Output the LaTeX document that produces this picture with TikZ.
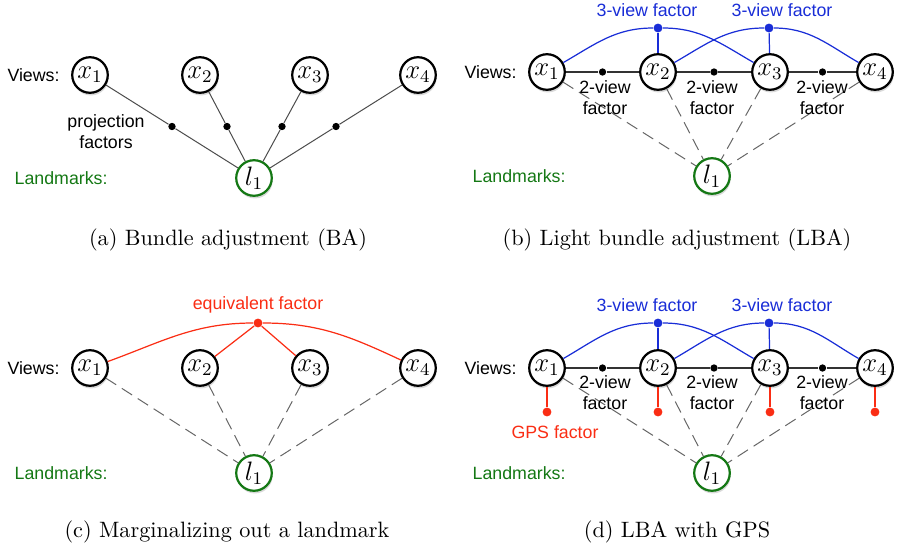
\documentclass[tikz,border=0pt]{standalone}
\usepackage{amsmath}
\usepackage{fontspec}
\setsansfont{Liberation Sans}
\usepackage{tikz}
\usetikzlibrary{positioning,shadows,calc}

\definecolor{lmgreen}{RGB}{20,120,20}
\definecolor{fblue}{RGB}{25,45,215}
\definecolor{fred}{RGB}{250,45,20}

\tikzset{
  view/.style={circle,draw=black,line width=1pt,fill=white,inner sep=0pt,minimum size=16pt,
    font=\large,drop shadow={opacity=0.3,shadow xshift=0.4pt,shadow yshift=-1.2pt}},
  landmark/.style={view,draw=lmgreen},
  factor/.style={circle,fill=black,inner sep=0pt,minimum size=3.3pt},
  bigfactor/.style={circle,fill=#1,inner sep=0pt,minimum size=4pt},
  lbl/.style={font=\sffamily\fontsize{8}{9.4}\selectfont,inner sep=1pt},
  proj/.style={draw=black!70,line width=0.45pt},
  seen/.style={draw=black!60,line width=0.45pt,dash pattern=on 5.5pt off 3pt},
  twoview/.style={draw=black!80,line width=0.7pt},
  threeview/.style={draw=fblue,line width=0.55pt},
  eqv/.style={draw=fred,line width=0.55pt},
  caption/.style={font=\normalsize}
}

\begin{document}
\begin{tikzpicture}[x=0.45pt,y=-0.45pt]
\useasboundingbox (0,0) rectangle (897,552);

% (a) bundle adjustment
\foreach \i/\x in {1/90,2/200,3/310,4/418}
  \node[view] (a\i) at (\x,75) {$x_\i$};
\node[landmark] (al) at (254,178) {$l_1$};
\foreach \i in {1,...,4} {
  \node[factor] (ap\i) at ($(a\i)!0.5!(al)$) {};
  \draw[proj] (a\i) -- (ap\i) -- (al);
}
\node[lbl,left=4pt of a1] {Views:};
\node[lbl,align=center] at (106,132) {projection\\factors};
\node[lbl,text=lmgreen,anchor=west] at (12,178) {Landmarks:};
\node[caption] at (228,240) {(a) Bundle adjustment (BA)};

% (b) light bundle adjustment
\foreach \i/\x in {1/547,2/658,3/770,4/875}
  \node[view] (b\i) at (\x,72) {$x_\i$};
\node[landmark] (bl) at (712,176) {$l_1$};
\foreach \i in {1,...,4}
  \draw[seen] (b\i) -- (bl);
\foreach \i/\j in {1/2,2/3,3/4} {
  \node[factor] (bp\i) at ($(b\i)!0.5!(b\j)$) {};
  \draw[twoview] (b\i) -- (bp\i) -- (b\j);
}
\node[bigfactor=fblue] (bt1) at (658,28) {};
\node[bigfactor=fblue] (bt2) at (769,28) {};
\draw[threeview] (b1) to[out=30,in=180] (bt1) to[out=0,in=150] (b3);
\draw[threeview] (b2) to[out=30,in=180] (bt2) to[out=0,in=150] (b4);
\draw[threeview] (bt1) -- (b2);
\draw[threeview] (bt2) -- (b3);
\node[lbl,text=fblue] at (647,10) {3-view factor};
\node[lbl,text=fblue] at (782,10) {3-view factor};
\foreach \x in {605,712,822}
  \node[lbl,align=center] at (\x,98) {2-view\\factor};
\node[lbl,left=4pt of b1] {Views:};
\node[lbl,text=lmgreen,anchor=west] at (470,176) {Landmarks:};
\node[caption] at (677,240) {(b) Light bundle adjustment (LBA)};

% (c) marginalizing out a landmark
\foreach \i/\x in {1/90,2/200,3/310,4/418}
  \node[view] (c\i) at (\x,368) {$x_\i$};
\node[landmark] (cl) at (254,473) {$l_1$};
\foreach \i in {1,...,4}
  \draw[seen] (c\i) -- (cl);
\node[bigfactor=fred] (ce) at (258,323) {};
\draw[eqv] (c1) to[out=20,in=180] (ce) to[out=0,in=155] (c4);
\draw[eqv] (ce) -- (c2);
\draw[eqv] (ce) -- (c3);
\node[lbl,text=fred] at (258,305) {equivalent factor};
\node[lbl,left=4pt of c1] {Views:};
\node[lbl,text=lmgreen,anchor=west] at (12,473) {Landmarks:};
\node[caption] at (227,532) {(c) Marginalizing out a landmark};

% (d) LBA with GPS
\foreach \i/\x in {1/547,2/658,3/770,4/875}
  \node[view] (d\i) at (\x,368) {$x_\i$};
\node[landmark] (dl) at (712,473) {$l_1$};
\foreach \i in {1,...,4}
  \draw[seen] (d\i) -- (dl);
\foreach \i/\j in {1/2,2/3,3/4} {
  \node[factor] (dp\i) at ($(d\i)!0.5!(d\j)$) {};
  \draw[twoview] (d\i) -- (dp\i) -- (d\j);
}
\node[bigfactor=fblue] (dt1) at (658,323) {};
\node[bigfactor=fblue] (dt2) at (769,323) {};
\draw[threeview] (d1) to[out=30,in=180] (dt1) to[out=0,in=150] (d3);
\draw[threeview] (d2) to[out=30,in=180] (dt2) to[out=0,in=150] (d4);
\draw[threeview] (dt1) -- (d2);
\draw[threeview] (dt2) -- (d3);
\foreach \i in {1,...,4} {
  \node[bigfactor=fred] (dg\i) at ($(d\i)+(0,44)$) {};
  \draw[eqv] (d\i) -- (dg\i);
}
\node[lbl,text=fblue] at (647,305) {3-view factor};
\node[lbl,text=fblue] at (782,305) {3-view factor};
\foreach \x in {605,712,822}
  \node[lbl,align=center] at (\x,393) {2-view\\factor};
\node[lbl,text=fred] at (555,432) {GPS factor};
\node[lbl,left=4pt of d1] {Views:};
\node[lbl,text=lmgreen,anchor=west] at (470,473) {Landmarks:};
\node[caption] at (677,532) {(d) LBA with GPS};
\end{tikzpicture}
\end{document}
